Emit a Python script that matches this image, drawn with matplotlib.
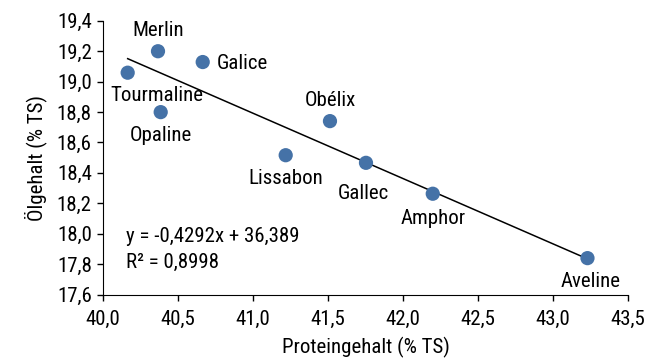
import matplotlib
matplotlib.use('Agg')
import matplotlib.pyplot as plt
from matplotlib.ticker import FuncFormatter
import numpy as np

plt.rcParams['font.family'] = ['Roboto Condensed', 'DejaVu Sans']
plt.rcParams['font.size'] = 15

sorten = ['Tourmaline', 'Merlin', 'Galice', 'Opaline', 'Obélix',
          'Lissabon', 'Gallec', 'Amphor', 'Aveline']
protein = [40.165, 40.367, 40.665, 40.385, 41.513, 41.218, 41.753, 42.198, 43.229]
oel = [19.058, 19.199, 19.128, 18.799, 18.740, 18.516, 18.466, 18.263, 17.840]
slope = -0.4292
intercept = 36.389
r2 = 0.8998

# label offsets in points
offsets = {
    'Tourmaline': (21, -16.5), 'Merlin': (0, 15), 'Galice': (10, -1.3),
    'Opaline': (0, -16.5), 'Obélix': (0, 14.5), 'Lissabon': (0, -16.5),
    'Gallec': (-2, -22), 'Amphor': (0, -18), 'Aveline': (2, -16.5),
}
aligns = {'Galice': 'left'}

fig = plt.figure(figsize=(6.64, 3.62), dpi=100)
ax = fig.add_axes([0.155, 0.186, 0.791, 0.757])

xs = np.array([min(protein), max(protein)])
ax.plot(xs, slope * xs + intercept, color='black', lw=1.1, zorder=2)
ax.scatter(protein, oel, s=105, color='#4572a7', zorder=3, edgecolors='none')

for name, x, y in zip(sorten, protein, oel):
    ax.annotate(name, (x, y), xytext=offsets[name], textcoords='offset points',
                ha=aligns.get(name, 'center'), va='center')

ax.text(0.044, 0.213, f'y = {slope:.4f}x + {intercept:.3f}'.replace('.', ','),
        transform=ax.transAxes, va='center')
ax.text(0.044, 0.117, f'R² = {r2:.4f}'.replace('.', ','),
        transform=ax.transAxes, va='center')

ax.set_xlim(40.0, 43.5)
ax.set_ylim(17.6, 19.4)
ax.set_xticks(np.arange(40.0, 43.51, 0.5))
ax.set_yticks(np.arange(17.6, 19.41, 0.2))
comma = FuncFormatter(lambda v, p: f'{v:.1f}'.replace('.', ','))
ax.xaxis.set_major_formatter(comma)
ax.yaxis.set_major_formatter(comma)
ax.tick_params(direction='out', length=4, width=1, labelsize=15)
ax.tick_params(axis='x', pad=7)
ax.tick_params(axis='y', pad=4)
ax.spines['top'].set_visible(False)
ax.spines['right'].set_visible(False)
ax.set_xlabel('Proteingehalt (% TS)', labelpad=6)
ax.set_ylabel('Ölgehalt (% TS)', labelpad=7)

fig.savefig('out.png', dpi=100)
